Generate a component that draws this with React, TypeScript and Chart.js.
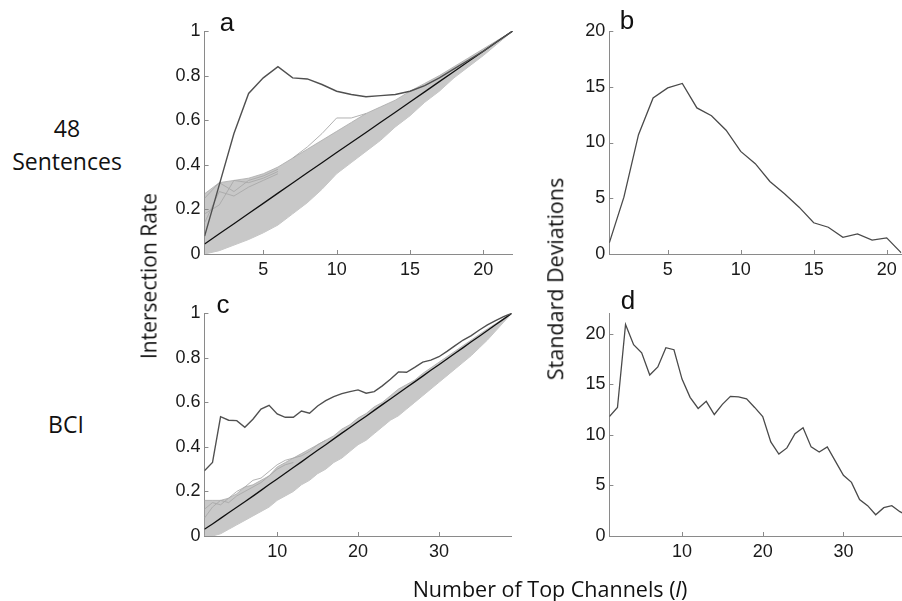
import React, { useEffect, useRef } from "react";
import { Chart, registerables } from "chart.js";

Chart.register(...registerables);

// ---------- data ----------
const channelsA = [1, 2, 3, 4, 5, 6, 7, 8, 9, 10, 11, 12, 13, 14, 15, 16, 17, 18, 19, 20, 21, 22];
const meanA = [0.045, 0.091, 0.136, 0.182, 0.227, 0.273, 0.318, 0.364, 0.409, 0.455, 0.5, 0.545, 0.591, 0.636, 0.682, 0.727, 0.773, 0.818, 0.864, 0.909, 0.955, 1];
const actualA = [0.08, 0.31, 0.54, 0.72, 0.79, 0.84, 0.79, 0.785, 0.76, 0.73, 0.715, 0.705, 0.71, 0.715, 0.73, 0.755, 0.79, 0.83, 0.87, 0.91, 0.955, 1];
const upperA = [0.27, 0.32, 0.33, 0.34, 0.36, 0.39, 0.43, 0.47, 0.51, 0.55, 0.59, 0.63, 0.66, 0.69, 0.73, 0.765, 0.8, 0.84, 0.88, 0.92, 0.96, 1];
const lowerA = [0.0, 0.015, 0.04, 0.065, 0.095, 0.13, 0.18, 0.23, 0.29, 0.36, 0.41, 0.46, 0.51, 0.57, 0.62, 0.68, 0.73, 0.79, 0.84, 0.89, 0.945, 1];
const permA1 = [0.25, 0.32, 0.28, 0.33, 0.35, 0.38];
const permA2 = [0.18, 0.22, 0.33, 0.32, 0.34, 0.37];
const permA3 = [0.14, 0.28, 0.26, 0.3, 0.33, 0.36];
const permA4x = [7, 8, 9, 10, 11, 12];
const permA4 = [0.43, 0.48, 0.54, 0.61, 0.61, 0.63];

const channelsB = [1, 2, 3, 4, 5, 6, 7, 8, 9, 10, 11, 12, 13, 14, 15, 16, 17, 18, 19, 20, 21];
const sdB = [1.0, 5.1, 10.7, 14.0, 14.9, 15.3, 13.1, 12.4, 11.1, 9.2, 8.1, 6.5, 5.4, 4.2, 2.8, 2.4, 1.5, 1.8, 1.25, 1.45, 0.1];

const channelsC = [1, 2, 3, 4, 5, 6, 7, 8, 9, 10, 11, 12, 13, 14, 15, 16, 17, 18, 19, 20, 21, 22, 23, 24, 25, 26, 27, 28, 29, 30, 31, 32, 33, 34, 35, 36, 37, 38, 39];
const meanC = [0.03, 0.054, 0.079, 0.104, 0.129, 0.154, 0.179, 0.205, 0.231, 0.256, 0.282, 0.308, 0.333, 0.359, 0.385, 0.41, 0.436, 0.462, 0.487, 0.513, 0.538, 0.564, 0.59, 0.615, 0.641, 0.667, 0.692, 0.718, 0.744, 0.769, 0.795, 0.821, 0.846, 0.872, 0.897, 0.923, 0.949, 0.974, 1];
const actualC = [0.293, 0.33, 0.536, 0.52, 0.518, 0.488, 0.524, 0.57, 0.587, 0.548, 0.533, 0.533, 0.561, 0.551, 0.584, 0.608, 0.626, 0.639, 0.648, 0.656, 0.641, 0.648, 0.674, 0.704, 0.737, 0.735, 0.757, 0.781, 0.79, 0.805, 0.829, 0.855, 0.88, 0.9, 0.925, 0.948, 0.967, 0.985, 1];
const upperC = [0.16, 0.16, 0.16, 0.17, 0.19, 0.22, 0.23, 0.25, 0.27, 0.31, 0.33, 0.35, 0.37, 0.39, 0.41, 0.43, 0.45, 0.48, 0.5, 0.53, 0.55, 0.58, 0.6, 0.63, 0.66, 0.68, 0.7, 0.73, 0.755, 0.78, 0.805, 0.83, 0.855, 0.88, 0.905, 0.93, 0.953, 0.977, 1];
const lowerC = [0.0, 0.0, 0.01, 0.03, 0.05, 0.07, 0.09, 0.11, 0.13, 0.16, 0.18, 0.2, 0.23, 0.25, 0.28, 0.3, 0.33, 0.35, 0.38, 0.41, 0.43, 0.46, 0.49, 0.52, 0.54, 0.57, 0.6, 0.63, 0.66, 0.69, 0.72, 0.75, 0.78, 0.81, 0.845, 0.88, 0.92, 0.96, 1];
const permC1 = [0.12, 0.15, 0.14, 0.17, 0.2, 0.22, 0.25, 0.26, 0.29, 0.32, 0.34, 0.35, 0.36, 0.38, 0.41, 0.43];
const permC2 = [0.08, 0.13, 0.16, 0.15, 0.18, 0.2, 0.22, 0.24, 0.27, 0.3, 0.32, 0.33];

const channelsD = [1, 2, 3, 4, 5, 6, 7, 8, 9, 10, 11, 12, 13, 14, 15, 16, 17, 18, 19, 20, 21, 22, 23, 24, 25, 26, 27, 28, 29, 30, 31, 32, 33, 34, 35, 36, 37, 38];
const sdD = [11.8, 12.7, 20.9, 18.9, 18.1, 15.9, 16.7, 18.6, 18.4, 15.5, 13.7, 12.6, 13.3, 12.0, 13.0, 13.8, 13.75, 13.55, 12.7, 11.8, 9.3, 8.1, 8.7, 10.1, 10.7, 8.8, 8.3, 8.8, 7.4, 6.0, 5.3, 3.6, 3.0, 2.1, 2.8, 3.0, 2.4, 2.0];

const xTicksA = [5, 10, 15, 20];
const xTicksC = [10, 20, 30];
const yTicksRate = [0, 0.2, 0.4, 0.6, 0.8, 1];
const yTicksSD = [0, 5, 10, 15, 20];

// ---------- helpers ----------
const AXIS_COLOR = "#8a8a8a";
const TICK_FONT = { family: "'Liberation Sans', Arial, sans-serif", size: 18 };
const LABEL_FONT = "'Open Sans', 'Noto Sans', sans-serif";

const pts = (xs: number[], ys: number[]) => ys.map((y, i) => ({ x: xs[i], y }));

const line = (data: any[], color: string, width: number, order: number, extra: any = {}) => ({
  data,
  borderColor: color,
  borderWidth: width,
  pointRadius: 0,
  tension: 0,
  fill: false,
  order,
  ...extra,
});

const inwardTicks = {
  id: "inwardTicks",
  afterDraw(chart: any) {
    const { ctx, chartArea, scales } = chart;
    ctx.save();
    ctx.strokeStyle = AXIS_COLOR;
    ctx.lineWidth = 1;
    scales.x.ticks.forEach((t: any) => {
      const px = Math.round(scales.x.getPixelForValue(t.value)) + 0.5;
      ctx.beginPath();
      ctx.moveTo(px, chartArea.bottom);
      ctx.lineTo(px, chartArea.bottom - 4);
      ctx.stroke();
    });
    scales.y.ticks.forEach((t: any) => {
      const py = Math.round(scales.y.getPixelForValue(t.value)) + 0.5;
      ctx.beginPath();
      ctx.moveTo(chartArea.left, py);
      ctx.lineTo(chartArea.left + 4, py);
      ctx.stroke();
    });
    ctx.restore();
  },
};

type PanelProps = {
  left: number;
  top: number;
  width: number;
  height: number;
  padTop: number;
  padRight: number;
  yWidth: number;
  xHeight: number;
  xMin: number;
  xMax: number;
  yMin: number;
  yMax: number;
  xTicks: number[];
  yTicks: number[];
  datasets: any[];
};

function Panel(p: PanelProps) {
  const ref = useRef<HTMLCanvasElement | null>(null);
  useEffect(() => {
    if (!ref.current) return;
    const chart = new Chart(ref.current, {
      type: "line",
      data: { datasets: p.datasets },
      plugins: [inwardTicks],
      options: {
        animation: false,
        responsive: false,
        events: [],
        layout: { padding: { top: p.padTop, right: p.padRight, left: 0, bottom: 0 } },
        plugins: { legend: { display: false }, tooltip: { enabled: false } },
        scales: {
          x: {
            type: "linear",
            min: p.xMin,
            max: p.xMax,
            grid: { display: false, drawTicks: false },
            border: { display: true, color: AXIS_COLOR, width: 1 },
            ticks: {
              font: TICK_FONT, color: "#1a1a1a", padding: 5, maxRotation: 0, autoSkip: false,
              callback: (v: any) => String(v),
            },
            afterBuildTicks: (s: any) => {
              s.ticks = p.xTicks.map((v) => ({ value: v }));
            },
            afterFit: (s: any) => {
              s.height = p.xHeight;
              s.paddingLeft = 0;
              s.paddingRight = 0;
            },
          },
          y: {
            type: "linear",
            min: p.yMin,
            max: p.yMax,
            grid: { display: false, drawTicks: false },
            border: { display: true, color: AXIS_COLOR, width: 1 },
            ticks: {
              font: TICK_FONT, color: "#1a1a1a", padding: 4, autoSkip: false,
              callback: (v: any) => String(v),
            },
            afterBuildTicks: (s: any) => {
              s.ticks = p.yTicks.map((v) => ({ value: v }));
            },
            afterFit: (s: any) => {
              s.width = p.yWidth;
              s.paddingTop = 0;
              s.paddingBottom = 0;
            },
          },
        },
      } as any,
    });
    return () => chart.destroy();
  }, []);
  return (
    <canvas
      ref={ref}
      width={p.width}
      height={p.height}
      style={{ position: "absolute", left: p.left, top: p.top, width: p.width, height: p.height }}
    />
  );
}

function Label(props: { x: number; y: number; text: React.ReactNode; size: number; rotate?: boolean; family?: string }) {
  return (
    <div
      style={{
        position: "absolute",
        left: props.x,
        top: props.y,
        transform: `translate(-50%, -50%)${props.rotate ? " rotate(-90deg)" : ""}`,
        fontFamily: props.family || LABEL_FONT,
        fontSize: props.size,
        lineHeight: 1,
        whiteSpace: "nowrap",
        color: "#111",
      }}
    >
      {props.text}
    </div>
  );
}

const BAND = "#c8c8c8";
const PERM = "#a9a9a9";

const datasetsA = [
  line(pts(channelsA, lowerA), "#b5b5b5", 0.8, 10),
  line(pts(channelsA, upperA), "#ababab", 0.8, 9, { fill: "-1", backgroundColor: BAND }),
  line(pts(channelsA, permA1), PERM, 0.9, 5),
  line(pts(channelsA, permA2), PERM, 0.9, 5),
  line(pts(channelsA, permA3), PERM, 0.9, 5),
  line(pts(permA4x, permA4), PERM, 0.9, 5),
  line(pts(channelsA, meanA), "#111111", 1.3, 1),
  line(pts(channelsA, actualA), "#505050", 1.4, 0),
];

const datasetsB = [line(pts(channelsB, sdB), "#4a4a4a", 1.3, 0)];

const datasetsC = [
  line(pts(channelsC, lowerC), "#b5b5b5", 0.8, 10),
  line(pts(channelsC, upperC), "#ababab", 0.8, 9, { fill: "-1", backgroundColor: BAND }),
  line(pts(channelsC, permC1), PERM, 0.9, 5),
  line(pts(channelsC, permC2), PERM, 0.9, 5),
  line(pts(channelsC, meanC), "#111111", 1.3, 1),
  line(pts(channelsC, actualC), "#505050", 1.4, 0),
];

const datasetsD = [line(pts(channelsD, sdD), "#4a4a4a", 1.3, 0)];

export default function App() {
  return (
    <div style={{ position: "absolute", left: 0, top: 0, width: 902, height: 601, background: "#fff", overflow: "hidden" }}>
      <Panel left={150} top={0} width={372} height={290} padTop={31} padRight={9.3} yWidth={54.6} xHeight={36}
        xMin={1} xMax={22} yMin={0} yMax={1} xTicks={xTicksA} yTicks={yTicksRate} datasets={datasetsA} />
      <Panel left={560} top={0} width={342} height={290} padTop={31} padRight={0.7} yWidth={49.3} xHeight={36}
        xMin={1} xMax={21} yMin={0} yMax={20} xTicks={xTicksA} yTicks={yTicksSD} datasets={datasetsB} />
      <Panel left={150} top={290} width={372} height={290} padTop={23.3} padRight={10.3} yWidth={54.4} xHeight={44}
        xMin={1} xMax={39} yMin={0} yMax={1} xTicks={xTicksC} yTicks={yTicksRate} datasets={datasetsC} />
      <Panel left={560} top={290} width={342} height={290} padTop={23.3} padRight={0} yWidth={49.4} xHeight={44}
        xMin={1} xMax={37.26} yMin={0} yMax={22} xTicks={xTicksC} yTicks={yTicksSD} datasets={datasetsD} />

      <Label x={227} y={22} text="a" size={26} family="'Liberation Sans', Arial, sans-serif" />
      <Label x={627} y={20} text="b" size={26} family="'Liberation Sans', Arial, sans-serif" />
      <Label x={223} y={304} text="c" size={26} family="'Liberation Sans', Arial, sans-serif" />
      <Label x={628} y={300} text="d" size={26} family="'Liberation Sans', Arial, sans-serif" />

      <Label x={67} y={128} text="48" size={23} />
      <Label x={67} y={161} text="Sentences" size={23} />
      <Label x={66} y={424} text="BCI" size={23} />
      <Label x={149} y={276} text="Intersection Rate" size={21} rotate />
      <Label x={555} y={279} text="Standard Deviations" size={21.5} rotate />
      <Label x={550} y={589} text={<span>Number of Top Channels (<i>l</i>)</span>} size={21.5} />
    </div>
  );
}
